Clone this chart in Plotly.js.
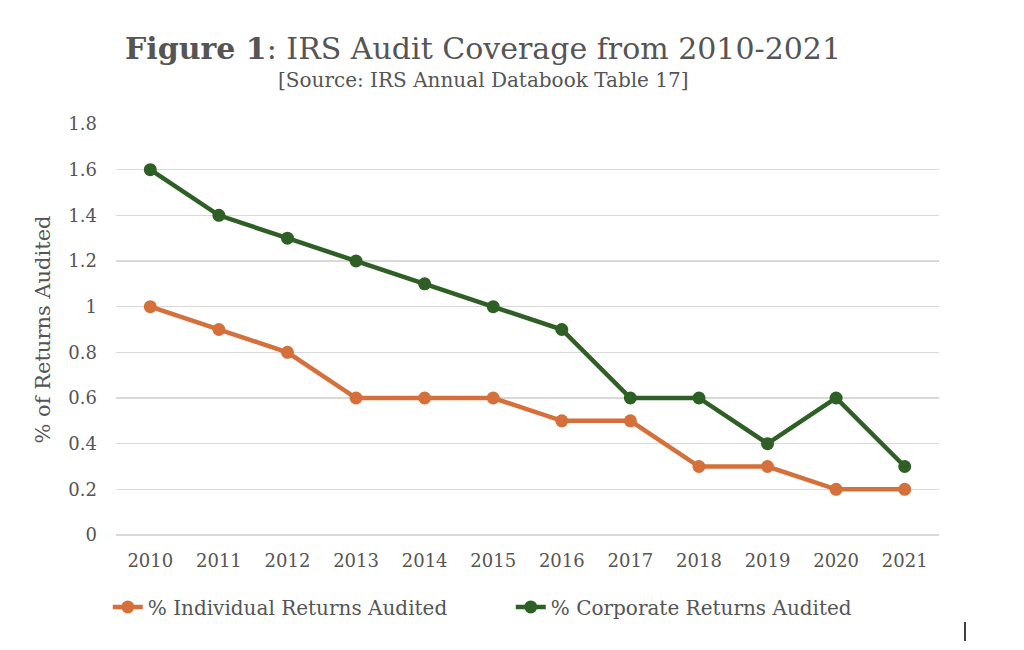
<!DOCTYPE html>
<html>
<head>
<meta charset="utf-8">
<script src="https://cdn.plot.ly/plotly-3.0.1.min.js"></script>
<style>html,body{margin:0;padding:0;background:#fff;}#chart{width:1024px;height:650px;}</style>
</head>
<body>
<div id="chart"></div>
<script>
const years = ['2010','2011','2012','2013','2014','2015','2016','2017','2018','2019','2020','2021'];
const individualPct = [1.0, 0.9, 0.8, 0.6, 0.6, 0.6, 0.5, 0.5, 0.3, 0.3, 0.2, 0.2];
const corporatePct = [1.6, 1.4, 1.3, 1.2, 1.1, 1.0, 0.9, 0.6, 0.6, 0.4, 0.6, 0.3];
const seriesNames = ['% Individual Returns Audited', '% Corporate Returns Audited'];

const FONT = 'Georgia, "DejaVu Serif", "Liberation Serif", serif';
const TXT = '#555555';
const ORANGE = '#D5703A';
const GREEN = '#2E5F25';

const traces = [
  {x: years, y: individualPct, name: seriesNames[0], type: 'scatter', mode: 'lines+markers',
   line: {color: ORANGE, width: 4.5}, marker: {color: ORANGE, size: 13}},
  {x: years, y: corporatePct, name: seriesNames[1], type: 'scatter', mode: 'lines+markers',
   line: {color: GREEN, width: 4.5}, marker: {color: GREEN, size: 13}}
];

const layout = {
  width: 1024, height: 650,
  paper_bgcolor: '#ffffff', plot_bgcolor: '#ffffff',
  margin: {l: 116, r: 85, t: 124, b: 115},
  font: {family: FONT, color: TXT, size: 18},
  showlegend: true,
  legend: {orientation: 'h', x: -0.01, xanchor: 'left', y: -0.175, yanchor: 'middle',
           font: {family: FONT, size: 20, color: TXT}, entrywidth: 358, entrywidthmode: 'pixels',
           itemwidth: 30},
  xaxis: {type: 'category', range: [-0.5, 11.5], showgrid: false, showline: false, zeroline: false,
          ticks: '', tickfont: {family: FONT, size: 18, color: TXT}, ticklabelstandoff: 13, fixedrange: true},
  yaxis: {range: [0, 1.8], dtick: 0.2, tick0: 0, showgrid: true, gridcolor: '#d9d9d9', gridwidth: 1.5,
          zeroline: true, zerolinecolor: '#d9d9d9', zerolinewidth: 1.5, showline: false, ticks: '',
          tickfont: {family: FONT, size: 18, color: TXT}, ticklabelstandoff: 18,
          title: {text: '% of Returns Audited', font: {family: FONT, size: 21, color: TXT}, standoff: 12},
          fixedrange: true},
  annotations: [
    {xref: 'paper', yref: 'paper', x: 0.446, y: (535-48)/411, xanchor: 'center', yanchor: 'middle',
     text: '<b>Figure 1</b>: IRS Audit Coverage from 2010-2021', showarrow: false,
     font: {family: FONT, size: 30, color: TXT}},
    {xref: 'paper', yref: 'paper', x: 0.446, y: (535-80)/411, xanchor: 'center', yanchor: 'middle',
     text: '[Source: IRS Annual Databook Table 17]', showarrow: false,
     font: {family: FONT, size: 20, color: TXT}}
  ],
  shapes: [
    {type: 'line', xref: 'paper', yref: 'paper', x0: (965-116)/823, x1: (965-116)/823,
     y0: (535-622)/411, y1: (535-641)/411, line: {color: '#000000', width: 1.5}}
  ]
};

Plotly.newPlot('chart', traces, layout, {displayModeBar: false, staticPlot: true});
</script>
</body>
</html>
